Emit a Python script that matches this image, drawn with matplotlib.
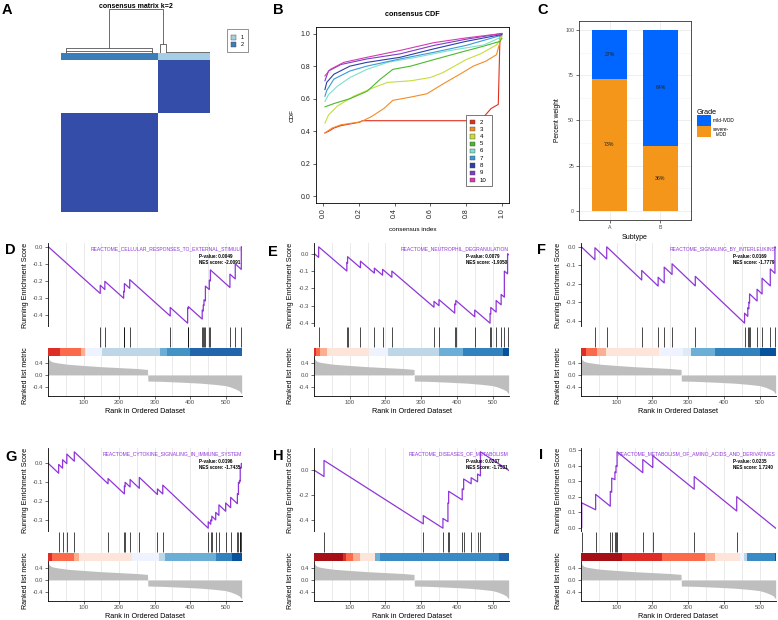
import numpy as np
import matplotlib
matplotlib.use("Agg")
import matplotlib.pyplot as plt
from matplotlib.colors import LinearSegmentedColormap, ListedColormap
from matplotlib.patches import Rectangle

plt.rcParams['font.family'] = ['Liberation Sans', 'DejaVu Sans']

W, H = 778, 620

# ---------------- A: consensus matrix k=2 ----------------
cluster_names = ['2', '1']            # order of the columns in the heatmap
cluster_sizes = [97, 52]
cluster_colors = ['#3A7DB8', '#A6CEE3']
heat_color = '#334DA8'
# dendrogram links: (left x, right x, height, left leg end, right leg end)
dendro_links = [
    (47.5, 102.0, 1.00, 0.11, 0.20),
    (5.0, 91.0, 0.11, 0.0, 0.0),
    (99.0, 105.0, 0.20, 0.0, 0.0),
    (5.0, 91.0, 0.05, 0.0, 0.0),
    (105.0, 149.0, 0.03, 0.0, 0.0),
]

# ---------------- B: consensus CDF ----------------
cdf_k = [2, 3, 4, 5, 6, 7, 8, 9, 10]
cdf_colors = ['#E0301E', '#F28C28', '#C8DC3C', '#4CB82E', '#7FE0C8',
              '#3A9AD9', '#2B3FA8', '#7B3FC4', '#D63BB0']
cdf_x = {
    2: [0.01, 0.03, 0.06, 0.10, 0.20, 0.22, 0.88, 0.90, 0.94, 0.98, 0.99, 1.0],
    3: [0.01, 0.05, 0.10, 0.21, 0.27, 0.34, 0.39, 0.49, 0.58, 0.67, 0.78, 0.84, 0.91, 0.97, 0.985, 1.0],
    4: [0.01, 0.03, 0.08, 0.17, 0.28, 0.36, 0.49, 0.60, 0.67, 0.80, 0.88, 0.97, 1.0],
    5: [0.01, 0.06, 0.15, 0.245, 0.32, 0.39, 0.49, 0.62, 0.77, 0.88, 0.99, 1.0],
    6: [0.01, 0.03, 0.08, 0.15, 0.245, 0.36, 0.52, 0.71, 0.90, 1.0],
    7: [0.01, 0.02, 0.06, 0.15, 0.245, 0.43, 0.62, 0.80, 1.0],
    8: [0.01, 0.02, 0.06, 0.15, 0.245, 0.43, 0.62, 0.80, 1.0],
    9: [0.01, 0.03, 0.10, 0.245, 0.43, 0.62, 0.80, 1.0],
    10: [0.01, 0.04, 0.115, 0.245, 0.43, 0.62, 0.80, 1.0],
}
cdf_y = {
    2: [0.39, 0.40, 0.42, 0.435, 0.455, 0.465, 0.465, 0.49, 0.54, 0.565, 1.0, 1.0],
    3: [0.39, 0.42, 0.44, 0.458, 0.49, 0.54, 0.59, 0.61, 0.63, 0.69, 0.76, 0.80, 0.83, 0.87, 0.93, 1.0],
    4: [0.45, 0.50, 0.555, 0.615, 0.667, 0.70, 0.71, 0.73, 0.76, 0.84, 0.875, 0.93, 0.98],
    5: [0.55, 0.57, 0.60, 0.645, 0.72, 0.78, 0.80, 0.84, 0.885, 0.917, 0.952, 0.97],
    6: [0.583, 0.625, 0.677, 0.73, 0.78, 0.823, 0.854, 0.896, 0.93, 0.98],
    7: [0.615, 0.65, 0.72, 0.77, 0.80, 0.844, 0.885, 0.927, 0.99],
    8: [0.656, 0.70, 0.75, 0.80, 0.823, 0.854, 0.906, 0.952, 0.994],
    9: [0.71, 0.77, 0.81, 0.844, 0.875, 0.927, 0.965, 1.0],
    10: [0.74, 0.78, 0.823, 0.854, 0.896, 0.944, 0.973, 1.0],
}

# ---------------- C: subtype vs grade ----------------
subtypes = ['A', 'B']
mild_pct = [27, 64]
severe_pct = [73, 36]
mild_color = '#0066FF'
severe_color = '#F4961A'

# ---------------- D-I: GSEA ----------------
n_genes = 545
rank_pts = [1, 3, 8, 15, 30, 55, 100, 150, 200, 250, 280, 281, 320, 380, 430,
            470, 500, 515, 528, 538, 545]
metric_pts = [0.55, 0.50, 0.45, 0.42, 0.39, 0.35, 0.31, 0.27, 0.24, 0.21, 0.18,
              -0.20, -0.21, -0.24, -0.27, -0.31, -0.35, -0.40, -0.46, -0.52, -0.62]

D_name = 'REACTOME_CELLULAR_RESPONSES_TO_EXTERNAL_STIMULI'
D_p, D_nes = '0.0049', '-2.0091'
D_hits = [147, 160, 213, 215, 230, 344, 393, 395, 434, 437, 439, 443, 454, 457, 512, 527, 544]
D_before = [-0.273, -0.25, -0.301, -0.264, -0.243, -0.405, -0.447, -0.362, -0.423, -0.376,
            -0.344, -0.317, -0.25, -0.20, -0.238, -0.188, -0.132]
D_after = [-0.225, -0.202, -0.26, -0.215, -0.192, -0.355, -0.358, -0.35, -0.37, -0.34,
           -0.31, -0.23, -0.195, -0.135, -0.16, -0.10, 0.0]
D_end = 0.0
D_edges = [0, 33, 94, 105, 108, 152, 316, 335, 400, 545]
D_cols = ['#DE2D26', '#FB6A4A', '#FCAE91', '#FEE5D9', '#EFF3FF', '#BDD7E7', '#6BAED6', '#4292C6', '#2166AC']

E_name = 'REACTOME_NEUTROPHIL_DEGRANULATION'
E_p, E_nes = '0.0079', '-1.9050'
E_hits = [13, 92, 94, 130, 169, 192, 218, 336, 350, 394, 397, 450, 493, 495, 510, 524, 533, 542]
E_before = [-0.021, -0.10, -0.054, -0.081, -0.112, -0.124, -0.136, -0.309, -0.30, -0.343,
            -0.295, -0.364, -0.401, -0.349, -0.337, -0.295, -0.251, -0.116]
E_after = [0.04, -0.05, -0.017, -0.043, -0.083, -0.09, -0.10, -0.275, -0.265, -0.29,
           -0.27, -0.325, -0.345, -0.31, -0.27, -0.235, -0.10, 0.0]
E_end = -0.005
E_edges = [0, 5, 18, 35, 155, 206, 351, 416, 528, 545]
E_cols = ['#DE2D26', '#FB6A4A', '#FCAE91', '#FEE5D9', '#EFF3FF', '#BDD7E7', '#6BAED6', '#3182BD', '#08519C']

F_name = 'REACTOME_SIGNALING_BY_INTERLEUKINS'
F_p, F_nes = '0.0169', '-1.7779'
F_hits = [39, 72, 170, 216, 233, 255, 320, 458, 467, 470, 472, 493, 507, 530, 543]
F_before = [-0.07, -0.066, -0.18, -0.213, -0.196, -0.15, -0.212, -0.414, -0.377, -0.336,
            -0.304, -0.294, -0.256, -0.212, -0.144]
F_after = [-0.005, 0.0, -0.128, -0.165, -0.11, -0.092, -0.16, -0.36, -0.33, -0.30,
           -0.255, -0.23, -0.17, -0.12, 0.0]
F_end = -0.004
F_edges = [0, 13, 46, 71, 219, 285, 308, 374, 502, 545]
F_cols = ['#DE2D26', '#FB6A4A', '#FCAE91', '#FEE5D9', '#EFF3FF', '#DEEBF7', '#6BAED6', '#3182BD', '#08519C']

G_name = 'REACTOME_CYTOKINE_SIGNALING_IN_IMMUNE_SYSTEM'
G_p, G_nes = '0.0196', '-1.7435'
G_hits = [30, 41, 53, 74, 169, 215, 217, 231, 257, 308, 323, 451, 458, 461, 472, 481,
          500, 514, 533, 536, 539, 541, 544]
G_before = [-0.052, -0.025, -0.001, 0.012, -0.108, -0.162, -0.124, -0.125, -0.132, -0.165,
            -0.162, -0.344, -0.323, -0.305, -0.30, -0.276, -0.254, -0.235, -0.214, -0.165,
            -0.105, -0.094, -0.025]
G_after = [-0.005, 0.02, 0.05, 0.062, -0.08, -0.12, -0.10, -0.085, -0.074, -0.135,
           -0.115, -0.31, -0.30, -0.28, -0.26, -0.22, -0.21, -0.18, -0.16, -0.10,
           -0.09, -0.02, 0.0]
G_end = 0.0
G_edges = [0, 11, 72, 86, 236, 311, 330, 473, 517, 545]
G_cols = ['#DE2D26', '#FB6A4A', '#FCAE91', '#FEE5D9', '#EFF3FF', '#BDD7E7', '#6BAED6', '#3182BD', '#08519C']

H_name = 'REACTOME_DISEASES_OF_METABOLISM'
H_p, H_nes = '0.0237', '-1.7531'
H_hits = [28, 306, 361, 375, 377, 415, 419, 440, 458, 466]
H_before = [-0.05, -0.434, -0.469, -0.416, -0.268, -0.24, -0.157, -0.109, -0.093, -0.045]
H_after = [0.08, -0.367, -0.39, -0.264, -0.17, -0.15, -0.07, -0.06, -0.03, 0.15]
H_end = 0.0
H_edges = [0, 80, 89, 110, 128, 171, 186, 517, 545]
H_cols = ['#A50F15', '#DE2D26', '#FB6A4A', '#FCAE91', '#FEE5D9', '#6BAED6', '#3A8AC6', '#1F63AA']

I_name = 'REACTOME_METABOLISM_OF_AMINO_ACIDS_AND_DERIVATIVES'
I_p, I_nes = '0.0235', '1.7240'
I_hits = [2, 41, 82, 86, 95, 98, 101, 173, 201, 317, 436]
I_before = [0.0, 0.115, 0.138, 0.228, 0.31, 0.355, 0.395, 0.355, 0.388, 0.248, 0.107]
I_after = [0.16, 0.215, 0.235, 0.32, 0.36, 0.40, 0.49, 0.44, 0.465, 0.33, 0.20]
I_end = -0.004
I_edges = [0, 114, 226, 348, 376, 446, 457, 464, 542, 545]
I_cols = ['#A50F15', '#DE2D26', '#FB6A4A', '#FCAE91', '#FEE5D9', '#EFF3FF', '#BDD7E7', '#3A8AC6', '#08519C']

es_color = '#9035D8'

fig = plt.figure(figsize=(W / 100, H / 100), dpi=100)


def px_axes(l, t, r, b):
    return fig.add_axes([l / W, 1 - b / H, (r - l) / W, (b - t) / H])


# ---------------- panel A ----------------
labels = np.repeat(np.arange(len(cluster_sizes)), cluster_sizes)
mat = (labels[:, None] == labels[None, :]).astype(float)[::-1]
ax = px_axes(61, 60, 210, 212)
ax.imshow(mat, cmap=LinearSegmentedColormap.from_list('wb', ['white', heat_color]),
          aspect='auto', interpolation='nearest')
ax.axis('off')

ax = px_axes(61, 53, 210, 60)
ax.imshow(labels[None, :], cmap=ListedColormap(cluster_colors), aspect='auto',
          interpolation='nearest')
ax.axis('off')

ax = px_axes(61, 5, 210, 53)
for xl, xr, h, hl, hr in dendro_links:
    ax.plot([xl, xl, xr, xr], [hl, h, h, hr], color='#555555', lw=0.6)
ax.set_xlim(0, sum(cluster_sizes))
ax.set_ylim(0, 1.09)
ax.axis('off')

# ---------------- panel B ----------------
ax = px_axes(316, 27, 509, 203)
for k, c in zip(cdf_k, cdf_colors):
    ax.plot(cdf_x[k], cdf_y[k], color=c, lw=0.8)
ax.set_xlim(-0.04, 1.04)
ax.set_ylim(-0.04, 1.04)
ticks = np.round(np.arange(0, 1.01, 0.2), 1)
ax.set_xticks(ticks)
ax.set_xticklabels([f'{t:.1f}' for t in ticks], rotation=90)
ax.set_yticks(ticks)
ax.set_yticklabels([f'{t:.1f}' for t in ticks])
ax.tick_params(length=2.5, width=0.5, pad=1.5, labelsize=5, colors='#222222')
for s in ax.spines.values():
    s.set_linewidth(0.6)
ax.set_ylabel('CDF', fontsize=4.6, labelpad=4)
ax.set_xlabel('consensus index', fontsize=4.6, labelpad=6)
ax.set_title('consensus CDF', fontsize=5.2, weight='bold', pad=8)

# ---------------- panel C ----------------
ax = px_axes(579, 21, 691, 220)
xpos = np.arange(1, len(subtypes) + 1)
for y in [0, 25, 50, 75, 100]:
    ax.axhline(y, color='#EBEBEB', lw=0.6, zorder=0)
for y in [12.5, 37.5, 62.5, 87.5]:
    ax.axhline(y, color='#F4F4F4', lw=0.4, zorder=0)
for x in xpos:
    ax.axvline(x, color='#EBEBEB', lw=0.6, zorder=0)
ax.bar(xpos, severe_pct, width=0.7, color=severe_color, zorder=2)
ax.bar(xpos, mild_pct, width=0.7, bottom=severe_pct, color=mild_color, zorder=2)
for x, s, m in zip(xpos, severe_pct, mild_pct):
    ax.text(x, s / 2, f'{s}%', ha='center', va='center', fontsize=3.8, color='#222222', zorder=3)
    ax.text(x, s + m / 2, f'{m}%', ha='center', va='center', fontsize=3.8, color='#222222', zorder=3)
ax.set_xlim(0.4, 2.6)
ax.set_ylim(-5, 105)
ax.set_xticks(xpos)
ax.set_xticklabels(subtypes)
ax.set_yticks([0, 25, 50, 75, 100])
ax.tick_params(length=2, width=0.5, pad=1.5, labelsize=3.8, color='#333333', labelcolor='#4D4D4D')
for s in ax.spines.values():
    s.set_linewidth(0.6)
    s.set_color('#333333')
ax.set_ylabel('Percent weight', fontsize=4.8, labelpad=3)
ax.set_xlabel('Subtype', fontsize=5, labelpad=3)

# ---------------- panels D-I ----------------
panels = [
    ('D', 48, 243, 194, D_name, D_p, D_nes, D_hits, D_before, D_after, D_end, D_edges, D_cols, 0.1),
    ('E', 314, 243, 195, E_name, E_p, E_nes, E_hits, E_before, E_after, E_end, E_edges, E_cols, 0.1),
    ('F', 581, 243, 195, F_name, F_p, F_nes, F_hits, F_before, F_after, F_end, F_edges, F_cols, 0.1),
    ('G', 48, 448, 194, G_name, G_p, G_nes, G_hits, G_before, G_after, G_end, G_edges, G_cols, 0.1),
    ('H', 314, 448, 195, H_name, H_p, H_nes, H_hits, H_before, H_after, H_end, H_edges, H_cols, 0.2),
    ('I', 581, 448, 195, I_name, I_p, I_nes, I_hits, I_before, I_after, I_end, I_edges, I_cols, 0.1),
]

grid_x = np.arange(50, n_genes, 50)

for (lab, left, top, width, name, pval, nes, hits, before, after, end,
     edges, cols, step) in panels:
    right = left + width
    es_ax = px_axes(left, top, right, top + 84)
    hit_ax = px_axes(left, top + 84, right, top + 113)
    rk_ax = px_axes(left, top + 113, right, top + 153)

    xs, ys = [1], [0.0]
    for r, b, a in zip(hits, before, after):
        xs += [r, r]
        ys += [b, a]
    xs.append(n_genes)
    ys.append(end)

    for gx in grid_x:
        for a in (es_ax, hit_ax, rk_ax):
            a.axvline(gx, color='#E6E6E6', lw=0.6, zorder=0)

    es_ax.plot(xs, ys, color=es_color, lw=0.9, zorder=2)
    lo, hi = min(ys), max(ys)
    pad = 0.05 * (hi - lo)
    es_ax.set_ylim(lo - pad, hi + pad)
    es_ax.set_xlim(0, n_genes + 1)
    yt = np.arange(np.ceil((lo - pad) / step) * step, hi + pad, step)
    es_ax.set_yticks(yt)
    es_ax.set_yticklabels([f'{v:.1f}' if abs(v) > 1e-9 else '0.0' for v in yt])
    es_ax.set_xticks([])
    for s in ['top', 'right', 'bottom']:
        es_ax.spines[s].set_visible(False)
    es_ax.spines['left'].set_linewidth(0.6)
    es_ax.tick_params(length=2, width=0.5, pad=1.2, labelsize=4.3, color='#333333', labelcolor='#4D4D4D')
    es_ax.set_ylabel('Running Enrichment Score', fontsize=5.1)
    es_ax.yaxis.set_label_coords(-0.1, 0.5)
    es_ax.text(0.997, 0.93, name, transform=es_ax.transAxes, ha='right', va='center',
               fontsize=3.6, color=es_color)
    nes_word = 'NES Score' if lab == 'H' else 'NES score'
    es_ax.text(0.78, 0.845, f'P-value: {pval}', transform=es_ax.transAxes, ha='left',
               va='center', fontsize=3.3, weight='bold', clip_on=True)
    es_ax.text(0.78, 0.77, f'{nes_word}: {nes}', transform=es_ax.transAxes, ha='left',
               va='center', fontsize=3.3, weight='bold', clip_on=True)

    hit_ax.vlines(hits, 0.3, 1.0, color='black', lw=0.5, zorder=2)
    for e0, e1, c in zip(edges[:-1], edges[1:], cols):
        hit_ax.add_patch(Rectangle((e0, 0), e1 - e0, 0.28, color=c, lw=0, zorder=3))
    hit_ax.set_xlim(0, n_genes + 1)
    hit_ax.set_ylim(0, 1)
    hit_ax.set_xticks([])
    hit_ax.set_yticks([])
    for s in hit_ax.spines.values():
        s.set_visible(False)

    rk_ax.fill_between(rank_pts, 0, metric_pts, color='#BEBEBE', lw=0, zorder=2)
    rk_ax.set_xlim(0, n_genes + 1)
    rk_ax.set_ylim(-0.69, 0.62)
    rk_ax.set_yticks([-0.4, 0.0, 0.4])
    rk_ax.set_yticklabels(['-0.4', '0.0', '0.4'])
    rk_ax.set_xticks([100, 200, 300, 400, 500])
    for s in ['top', 'right']:
        rk_ax.spines[s].set_visible(False)
    for s in ['left', 'bottom']:
        rk_ax.spines[s].set_linewidth(0.6)
    rk_ax.tick_params(length=2, width=0.5, pad=1.2, labelsize=4.3, color='#333333', labelcolor='#4D4D4D')
    rk_ax.set_ylabel('Ranked list metric', fontsize=5.1)
    rk_ax.yaxis.set_label_coords(-0.1, 0.5)
    rk_ax.set_xlabel('Rank in Ordered Dataset', fontsize=5.2, labelpad=1.5)

# ---------------- overlay: titles, legends, panel letters ----------------
ov = fig.add_axes([0, 0, 1, 1], zorder=10)
ov.set_xlim(0, W)
ov.set_ylim(H, 0)
ov.axis('off')

ov.text(136, 6, 'consensus matrix k=2', ha='center', va='center', fontsize=5, weight='bold')
ov.add_patch(Rectangle((227, 29), 21, 23, fill=False, ec='#666666', lw=0.5))
for i, (nm, c) in enumerate(sorted(zip(cluster_names, cluster_colors))):
    ov.add_patch(Rectangle((231, 35 + 7 * i), 5, 5, fc=c, ec='#444444', lw=0.3))
    ov.text(241, 37.5 + 7 * i, nm, ha='left', va='center', fontsize=4)

ov.add_patch(Rectangle((466, 115), 26, 71, fc='white', ec='#444444', lw=0.5))
for i, (k, c) in enumerate(zip(cdf_k, cdf_colors)):
    y = 122 + 7.25 * i
    ov.add_patch(Rectangle((470, y - 2.2), 5, 4.4, fc=c, ec='#444444', lw=0.3))
    ov.text(480, y, str(k), ha='left', va='center', fontsize=4.4)

ov.text(697, 112, 'Grade', ha='left', va='center', fontsize=5.2)
ov.add_patch(Rectangle((697, 115), 14, 11, fc=mild_color, ec='none'))
ov.add_patch(Rectangle((697, 126), 14, 11, fc=severe_color, ec='none'))
ov.text(713, 121, 'mild-IVDD', ha='left', va='center', fontsize=3.4)
ov.text(713, 132, 'severe-\nIVDD', ha='left', va='center', fontsize=3.4,
        multialignment='center', linespacing=1.0)

for lab, x, y in [('A', 2, 10), ('B', 273, 10), ('C', 537, 10),
                  ('D', 5, 250), ('E', 268, 252), ('F', 537, 250),
                  ('G', 5, 457), ('H', 273, 456), ('I', 539, 455)]:
    ov.text(x, y, lab, ha='left', va='center', fontsize=10.5, weight='bold')

fig.savefig('out.png', dpi=100)
